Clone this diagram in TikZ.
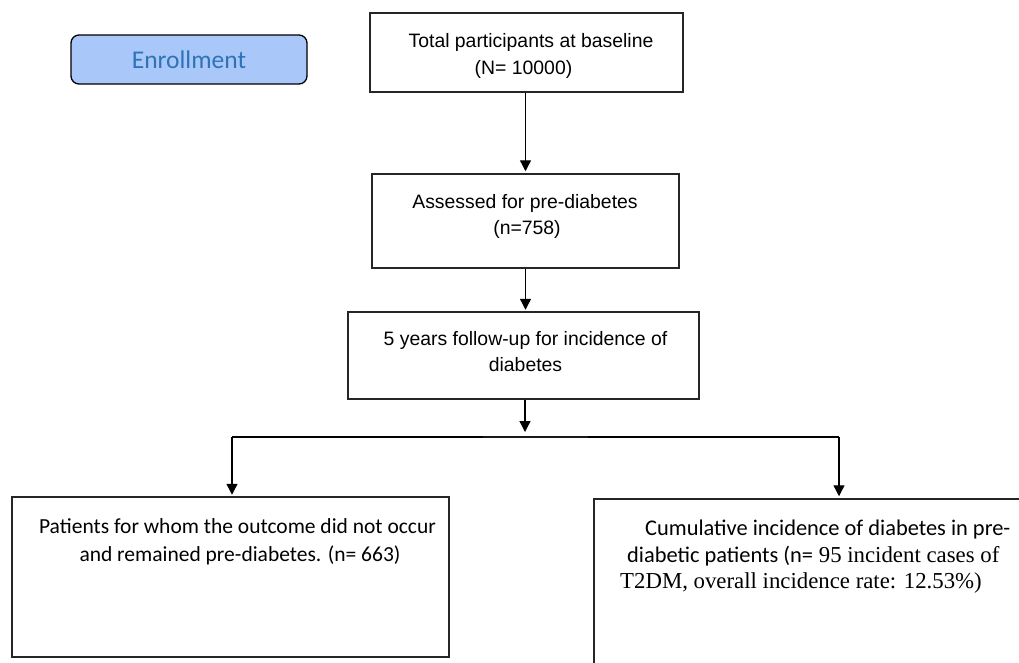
\documentclass[tikz,border=0pt]{standalone}
\usepackage{fontspec}
\setmainfont{Liberation Sans}
\newfontfamily\fArial{Liberation Sans}
\newfontfamily\fCal{Carlito}
\newfontfamily\fTnr{Liberation Serif}
\usetikzlibrary{arrows.meta}
\definecolor{enrfill}{RGB}{170,199,250}
\definecolor{enrtext}{RGB}{46,116,181}
\begin{document}
\begin{tikzpicture}[x=1pt,y=-1pt,
  box/.style={draw=black!85, line width=1.5pt, inner sep=0pt},
  enr/.style={draw=black, line width=1.3pt, fill=enrfill, rounded corners=8pt, inner sep=0pt,
    minimum width=236pt, minimum height=49pt, text=enrtext, font=\fCal\fontsize{25.5}{30}\selectfont},
  arr/.style={-{Triangle[length=11pt,width=11pt]}, line width=1.3pt},
  conn/.style={line width=1.3pt},
  ta/.style={font=\fArial\fontsize{19.4}{23}\selectfont, inner sep=0pt, anchor=base},
  tc/.style={font=\fCal\fontsize{21.5}{26}\selectfont, inner sep=0pt, anchor=base},
  tcw/.style={font=\fCal\fontsize{22.4}{26}\selectfont, inner sep=0pt, anchor=base west},
  ttw/.style={font=\fTnr\fontsize{22.8}{27}\selectfont, inner sep=0pt, anchor=base west}]
\useasboundingbox (0,0) rectangle (1019,662);
\clip (0,0) rectangle (1019,662);
\fill[white] (0,0) rectangle (1019,662);

% Enrollment label
\node[enr] (en) at (189,59.5) {Enrollment};

% Boxes
\node[box, minimum width=313pt, minimum height=79pt] (b1) at (526.5,52.5) {};
\node[box, minimum width=307pt, minimum height=94pt] (b2) at (525.5,221) {};
\node[box, minimum width=351pt, minimum height=87pt] (b3) at (523.5,355.5) {};
\node[box, minimum width=437pt, minimum height=160pt] (lb) at (230.5,577) {};
\node[box, minimum width=436pt, minimum height=182pt] (rb) at (812,590) {};

% Texts
\node[ta] (t1a) at (531,47) {Total participants at baseline};
\node[ta] (t1b) at (523.5,74) {(N= 10000)};
\node[ta] (t2a) at (525,208) {Assessed for pre-diabetes};
\node[ta] (t2b) at (527,234) {(n=758)};
\node[ta] (t3a) at (525.5,345) {5 years follow-up for incidence of};
\node[ta] (t3b) at (525.5,371) {diabetes};
\node[tc] (tla) at (237.5,533) {Patients for whom the outcome did not occur};
\node[tc] (tlb) at (240,561) {and remained pre-diabetes. (n= 663)};
\node[tcw] (tra) at (645,535) {Cumulative incidence of diabetes in pre-};
\node[tcw] (trb) at (627,562) {diabetic patients (n={\fTnr\fontsize{22.8}{27}\selectfont{} 95 incident cases of}};
\node[ttw] (trc) at (620,588) {T2DM, overall incidence rate: 12.53\%)};

% Connectors
\coordinate (j) at (525,432);
\coordinate (jl) at (232,437);
\coordinate (jr) at (839,437);
\coordinate (s1) at (483,437);
\coordinate (s2) at (588,437);
\draw[arr, shorten >=2pt] (b1.south -| b2.north) -- (b2.north);
\draw[arr, shorten >=1.5pt] (b2.south) -- (b2.south |- b3.north);
\draw[arr] (b3.south -| j) -- (j);
\draw[conn] (jl) -- (jr);
\draw[line width=1.8pt, black!90] (s1) -- (s2);
\draw[arr, shorten >=1.5pt] (jl) -- (jl |- lb.north);
\draw[arr, shorten >=2pt] (jr) -- (jr |- rb.north);
\end{tikzpicture}
\end{document}
